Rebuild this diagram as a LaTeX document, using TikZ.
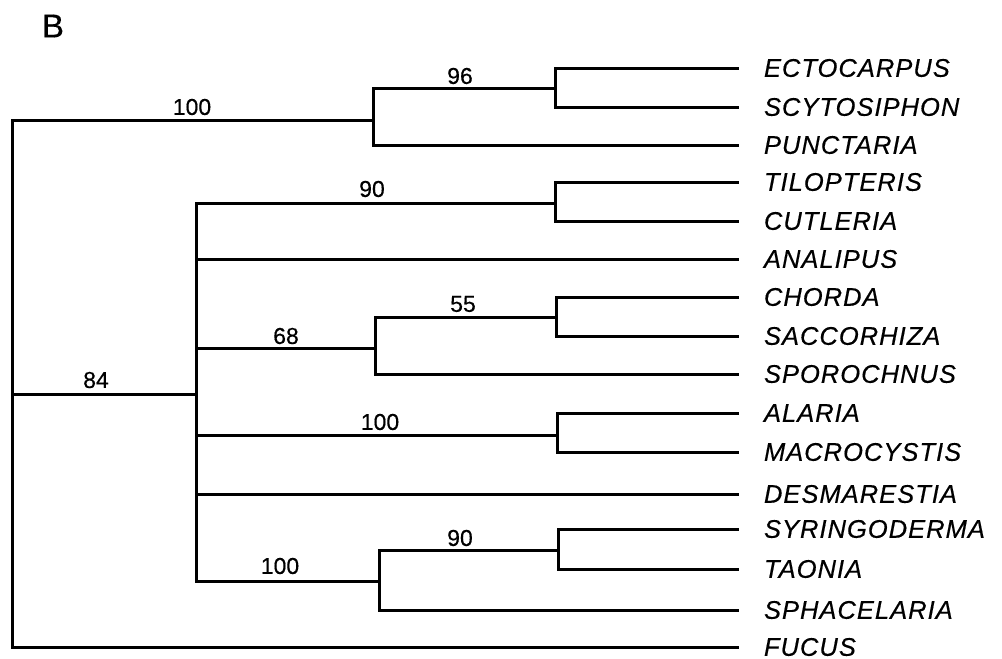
\documentclass[tikz,border=0pt]{standalone}
\usepackage{fontspec}
\setmainfont{Liberation Sans}[FakeBold=0.4]
\newfontfamily\leaffont{Liberation Sans}[LetterSpace=4,FakeBold=0.4]
\begin{document}
\begin{tikzpicture}[x=1pt,y=-1pt,
  branch/.style={line width=3pt, line join=miter},
  leaf/.style={anchor=west, inner sep=0pt, outer xsep=25pt, font=\leaffont\itshape\fontsize{25.5}{26}\selectfont},
  boot/.style={inner sep=0pt, font=\fontsize{23}{23}\selectfont}]
\useasboundingbox (0,0) rectangle (1002,659);
\node[inner sep=0pt, font=\fontsize{33}{33}\selectfont] (title) at (53,26) {B};
% leaves
\node[leaf] (n0) at (739,68) {ECTOCARPUS};
\node[leaf] (n1) at (739,107) {SCYTOSIPHON};
\node[leaf] (n2) at (739,145) {PUNCTARIA};
\node[leaf] (n3) at (739,182) {TILOPTERIS};
\node[leaf] (n4) at (739,221) {CUTLERIA};
\node[leaf] (n5) at (739,259) {ANALIPUS};
\node[leaf] (n6) at (739,297) {CHORDA};
\node[leaf] (n7) at (739,336) {SACCORHIZA};
\node[leaf] (n8) at (739,374) {SPOROCHNUS};
\node[leaf] (n9) at (739,413) {ALARIA};
\node[leaf] (n10) at (739,452) {MACROCYSTIS};
\node[leaf] (n11) at (739,494) {DESMARESTIA};
\node[leaf] (n12) at (739,529) {SYRINGODERMA};
\node[leaf] (n13) at (739,569) {TAONIA};
\node[leaf] (n14) at (739,610) {SPHACELARIA};
\node[leaf] (n15) at (739,647) {FUCUS};
% internal nodes
\coordinate (A) at (555,88);
\coordinate (B) at (373,120);
\coordinate (C) at (555,203);
\coordinate (D) at (556,317);
\coordinate (E) at (375,348);
\coordinate (F) at (557,435);
\coordinate (G) at (558,550);
\coordinate (H) at (379,581);
\coordinate (I) at (196,394);
\coordinate (R) at (12,394);
% branches
\draw[branch] (A) |- (n0.west);
\draw[branch] (A) |- (n1.west);
\draw[branch] (B) |- (A);
\draw[branch] (B) |- (n2.west);
\draw[branch] (C) |- (n3.west);
\draw[branch] (C) |- (n4.west);
\draw[branch] (D) |- (n6.west);
\draw[branch] (D) |- (n7.west);
\draw[branch] (E) |- (D);
\draw[branch] (E) |- (n8.west);
\draw[branch] (F) |- (n9.west);
\draw[branch] (F) |- (n10.west);
\draw[branch] (G) |- (n12.west);
\draw[branch] (G) |- (n13.west);
\draw[branch] (H) |- (G);
\draw[branch] (H) |- (n14.west);
\draw[branch] (I) |- (C);
\draw[branch] (I) |- (n5.west);
\draw[branch] (I) |- (E);
\draw[branch] (I) |- (F);
\draw[branch] (I) |- (n11.west);
\draw[branch] (I) |- (H);
\draw[branch] (R) |- (B);
\draw[branch] (R) |- (I);
\draw[branch] (R) |- (n15.west);
% bootstrap values
\node[boot] (b1) at (192,107) {100};
\node[boot] (b2) at (460,76) {96};
\node[boot] (b3) at (372,189) {90};
\node[boot] (b4) at (96,380) {84};
\node[boot] (b5) at (286,336) {68};
\node[boot] (b6) at (463,304) {55};
\node[boot] (b7) at (380,422) {100};
\node[boot] (b8) at (280,566) {100};
\node[boot] (b9) at (460,538) {90};
\end{tikzpicture}
\end{document}
